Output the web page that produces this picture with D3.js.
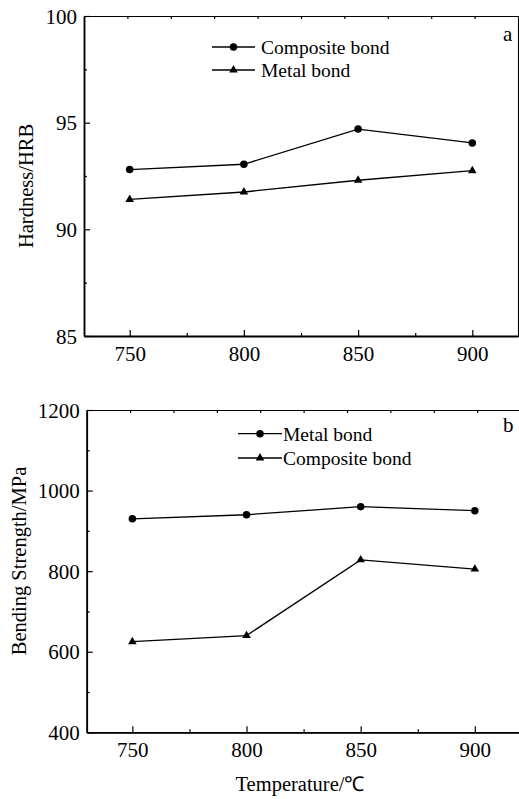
<!DOCTYPE html>
<html><head><meta charset="utf-8">
<script src="https://cdn.jsdelivr.net/npm/d3@7"></script>
<style>
html,body{margin:0;padding:0;background:#fff;}
svg{display:block;}
</style></head>
<body>
<script>
// ---- data ----
const temps = [750, 800, 850, 900];
const xMajorTicks = [750, 800, 850, 900];
const xMinorTicks = [775, 825, 875];

const hardnessComposite = [92.8, 93.05, 94.7, 94.05];
const hardnessMetal = [91.4, 91.75, 92.3, 92.75];
const hardnessMajorTicks = [85, 90, 95, 100];
const hardnessMinorTicks = [87.5, 92.5, 97.5];

const strengthMetal = [930, 940, 960, 950];
const strengthComposite = [625, 640, 828, 805];
const strengthMajorTicks = [400, 600, 800, 1000, 1200];
const strengthMinorTicks = [500, 700, 900, 1100];

const FONT = "'Liberation Serif', 'Times New Roman', Times, serif";
const W = 519, H = 799;
const svg = d3.select("body").append("svg").attr("width", W).attr("height", H);

function panel(cfg) {
  const g = svg.append("g");
  const x = d3.scaleLinear().domain([730, 920]).range([cfg.left, cfg.right]);
  const y = d3.scaleLinear().domain(cfg.yDomain).range([cfg.bottom, cfg.top]);
  const top = d3.scaleLinear().domain([0, 10]).range([cfg.left, cfg.right]);

  const fs = "21px";
  const bx = g.append("g").attr("transform", `translate(0,${cfg.bottom})`)
    .call(d3.axisBottom(x).tickValues(xMajorTicks).tickSizeInner(-6).tickSizeOuter(0).tickPadding(0).tickFormat(d3.format("d")));
  bx.selectAll("text").attr("y", 24.5).attr("dy", null).style("font-size", fs);
  g.append("g").attr("transform", `translate(0,${cfg.bottom})`)
    .call(d3.axisBottom(x).tickValues(xMinorTicks).tickSizeInner(-3).tickSizeOuter(0).tickFormat(""));
  g.append("g").attr("transform", `translate(0,${cfg.top})`)
    .call(d3.axisTop(top).tickValues([1,2,3,4,5,6,7,8,9]).tickSizeInner(-3).tickSizeOuter(0).tickFormat(""));
  const ly = g.append("g").attr("transform", `translate(${cfg.left},0)`)
    .call(d3.axisLeft(y).tickValues(cfg.major).tickSizeInner(-6).tickSizeOuter(0).tickPadding(0).tickFormat(d3.format("d")));
  ly.selectAll("text").attr("x", -7).attr("dy", "0.34em").style("font-size", fs);
  g.append("g").attr("transform", `translate(${cfg.left},0)`)
    .call(d3.axisLeft(y).tickValues(cfg.minor).tickSizeInner(-3).tickSizeOuter(0).tickFormat(""));
  g.append("g").attr("transform", `translate(${cfg.right},0)`)
    .call(d3.axisRight(y).tickValues([]).tickSizeOuter(0));

  g.selectAll(".domain").attr("stroke", "#000").attr("stroke-width", 1.1);
  g.selectAll(".tick line").attr("stroke", "#000").attr("stroke-width", 1.2);
  bx.select(".domain").attr("stroke-width", 1.8);
  ly.select(".domain").attr("stroke-width", 1.8);

  const line = d3.line().x((d, i) => x(temps[i])).y(d => y(d));
  const circ = d3.symbol().type(d3.symbolCircle).size(44);
  const tri = d3.symbol().type(d3.symbolTriangle).size(32);

  cfg.series.forEach(s => {
    g.append("path").datum(s.values).attr("d", line)
      .attr("fill", "none").attr("stroke", "#000").attr("stroke-width", 1.3);
    g.selectAll(null).data(s.values).enter().append("path")
      .attr("d", s.shape === "circle" ? circ : tri)
      .attr("transform", (d, i) => `translate(${x(temps[i])},${y(d)})`)
      .attr("fill", "#000");
  });

  cfg.series.forEach((s, i) => {
    const ly0 = cfg.legend.y[i];
    g.append("line").attr("x1", cfg.legend.x1).attr("x2", cfg.legend.x2)
      .attr("y1", ly0).attr("y2", ly0).attr("stroke", "#000").attr("stroke-width", 1.3);
    g.append("path").attr("d", s.shape === "circle" ? circ : tri)
      .attr("transform", `translate(${(cfg.legend.x1 + cfg.legend.x2) / 2},${ly0})`).attr("fill", "#000");
    g.append("text").attr("x", cfg.legend.tx).attr("y", ly0 + 6.8)
      .style("font-size", "19.5px").text(s.name);
  });

  g.append("text").attr("x", cfg.letter.x).attr("y", cfg.letter.y)
    .style("font-size", "21px").text(cfg.letter.t);

  g.append("text")
    .attr("transform", `translate(${cfg.ylab.x},${cfg.ylab.y}) rotate(-90)`)
    .attr("text-anchor", "middle").style("font-size", "20.5px").text(cfg.ylab.t);
}

panel({
  left: 84, right: 518, top: 16, bottom: 336,
  yDomain: [85, 100], major: hardnessMajorTicks, minor: hardnessMinorTicks,
  series: [
    { name: "Composite bond", values: hardnessComposite, shape: "circle" },
    { name: "Metal bond", values: hardnessMetal, shape: "triangle" }
  ],
  legend: { x1: 212, x2: 255, tx: 261, y: [47, 70] },
  letter: { x: 503, y: 40.5, t: "a" },
  ylab: { x: 33, y: 186, t: "Hardness/HRB" }
});

panel({
  left: 86.7, right: 520.5, top: 410, bottom: 732.3,
  yDomain: [400, 1200], major: strengthMajorTicks, minor: strengthMinorTicks,
  series: [
    { name: "Metal bond", values: strengthMetal, shape: "circle" },
    { name: "Composite bond", values: strengthComposite, shape: "triangle" }
  ],
  legend: { x1: 238, x2: 282, tx: 283, y: [433.7, 458] },
  letter: { x: 503, y: 431.5, t: "b" },
  ylab: { x: 26, y: 561, t: "Bending Strength/MPa" }
});

svg.append("text").attr("x", 300).attr("y", 791).attr("text-anchor", "middle")
  .style("font-size", "20.5px").text("Temperature/℃");

svg.selectAll("g").attr("font-family", null);
svg.selectAll("text").style("font-family", FONT).style("fill", "#000");
</script>
</body></html>
